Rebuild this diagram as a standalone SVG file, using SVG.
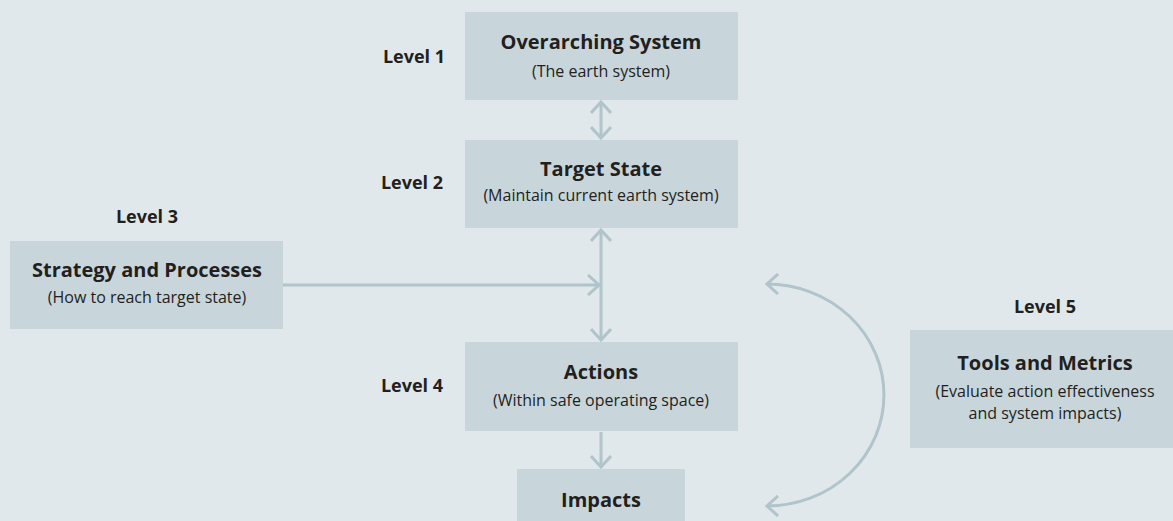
<svg xmlns="http://www.w3.org/2000/svg" width="1173" height="521" viewBox="0 0 1173 521">
<defs>
<style>
.bg{fill:#e1e8eb}
.box{fill:#c8d6db}
.t{font-family:"Open Sans","Noto Sans","Liberation Sans",sans-serif;font-size:20px;font-weight:700;fill:#231f20;text-anchor:middle}
.s{font-family:"Open Sans","Noto Sans","Liberation Sans",sans-serif;font-size:16px;font-weight:400;fill:#231f20;text-anchor:middle}
.lv{font-family:"Open Sans","Noto Sans","Liberation Sans",sans-serif;font-size:18px;font-weight:700;fill:#231f20;text-anchor:middle}
.c{fill:none;stroke:#afc4cb;stroke-width:3}
</style>
<marker id="ah" viewBox="0 0 14 22" refX="12" refY="11" markerWidth="14" markerHeight="22" markerUnits="userSpaceOnUse" orient="auto-start-reverse">
<path d="M1,1 L12,11 L1,21" fill="none" stroke="#afc4cb" stroke-width="3"/>
</marker>
</defs>
<rect class="bg" x="0" y="0" width="1173" height="521"/>
<g id="level-labels">
<text class="lv" x="414" y="63">Level 1</text>
<text class="lv" x="412" y="189">Level 2</text>
<text class="lv" x="147" y="223">Level 3</text>
<text class="lv" x="412" y="392">Level 4</text>
<text class="lv" x="1045" y="313">Level 5</text>
</g>
<g id="overarching">
<rect class="box" x="465" y="12" width="273" height="88"/>
<text class="t" x="601" y="49">Overarching System</text>
<text class="s" x="601" y="77">(The earth system)</text>
</g>
<g id="target">
<rect class="box" x="465" y="140" width="273" height="88"/>
<text class="t" x="601" y="176">Target State</text>
<text class="s" x="601" y="201">(Maintain current earth system)</text>
</g>
<g id="strategy">
<rect class="box" x="10" y="241" width="273" height="88"/>
<text class="t" x="147" y="277">Strategy and Processes</text>
<text class="s" x="147" y="303">(How to reach target state)</text>
</g>
<g id="actions">
<rect class="box" x="465" y="342" width="273" height="89"/>
<text class="t" x="601" y="379">Actions</text>
<text class="s" x="601" y="406">(Within safe operating space)</text>
</g>
<g id="impacts">
<rect class="box" x="517" y="469" width="168" height="52"/>
<text class="t" x="601" y="507">Impacts</text>
</g>
<g id="tools">
<rect class="box" x="910" y="330" width="263" height="118"/>
<text class="t" x="1045" y="370">Tools and Metrics</text>
<text class="s" x="1045" y="397">(Evaluate action effectiveness</text>
<text class="s" x="1045" y="419">and system impacts)</text>
</g>
<g id="connectors">
<line class="c" x1="601" y1="102" x2="601" y2="138" marker-start="url(#ah)" marker-end="url(#ah)"/>
<line class="c" x1="601" y1="230" x2="601" y2="340" marker-start="url(#ah)" marker-end="url(#ah)"/>
<line class="c" x1="283" y1="285" x2="599" y2="285" marker-end="url(#ah)"/>
<line class="c" x1="601" y1="432" x2="601" y2="467" marker-end="url(#ah)"/>
<path class="c" d="M767,284 A117,111 0 0 1 767,506" marker-start="url(#ah)" marker-end="url(#ah)"/>
</g>
</svg>
